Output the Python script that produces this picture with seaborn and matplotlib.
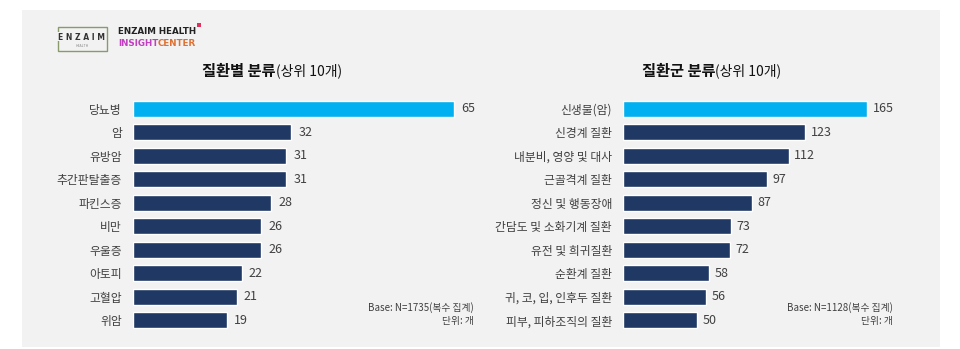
import matplotlib
matplotlib.use("Agg")
import matplotlib.pyplot as plt
import seaborn as sns
import pandas as pd
from matplotlib.patches import Rectangle

sns.set_theme(style="white")
plt.rcParams['font.family'] = ['Noto Sans CJK KR', 'DejaVu Sans']

left_cats = ["당뇨병", "암", "유방암", "추간판탈출증", "파킨스증", "비만", "우울증", "아토피", "고혈압", "위암"]
left_vals = [65, 32, 31, 31, 28, 26, 26, 22, 21, 19]
right_cats = ["신생물(암)", "신경계 질환", "내분비, 영양 및 대사", "근골격계 질환", "정신 및 행동장애",
              "간담도 및 소화기계 질환", "유전 및 희귀질환", "순환계 질환", "귀, 코, 입, 인후두 질환", "피부, 피하조직의 질환"]
right_vals = [165, 123, 112, 97, 87, 73, 72, 58, 56, 50]

left_title_bold, left_title_rest = "질환별 분류", "(상위 10개)"
right_title_bold, right_title_rest = "질환군 분류", "(상위 10개)"
left_note = ["Base: N=1735(복수 집계)", "단위: 개"]
right_note = ["Base: N=1128(복수 집계)", "단위: 개"]

HL = "#00b0f0"
NAVY = "#1f3864"
TXT = "#404040"

W, H = 960, 349
fig = plt.figure(figsize=(9.6, 3.49), dpi=100, facecolor="white")

# gray panel
fig.patches.append(Rectangle((22 / W, 1 - 347 / H), (940 - 22) / W, (347 - 10) / H,
                             transform=fig.transFigure, facecolor="#f2f2f2", edgecolor="none", zorder=-10))

def px_axes(x0, y0, x1, y1):
    return fig.add_axes([x0 / W, 1 - y1 / H, (x1 - x0) / W, (y1 - y0) / H])

def draw(ax, cats, vals, xmax):
    df = pd.DataFrame({"cat": cats, "val": vals})
    pal = [HL] + [NAVY] * (len(cats) - 1)
    sns.barplot(data=df, y="cat", x="val", hue="cat", palette=pal, legend=False,
                orient="h", width=0.66, ax=ax, saturation=1)
    ax.set_xlim(0, xmax)
    ax.set_ylim(len(cats) - 0.5, -0.5)
    ax.patch.set_visible(False)
    for s in ax.spines.values():
        s.set_visible(False)
    ax.set_xticks([])
    ax.set_xlabel("")
    ax.set_ylabel("")
    ax.tick_params(axis="y", length=0, pad=8, labelsize=8.5, labelcolor=TXT)
    for i, v in enumerate(vals):
        ax.text(v + xmax * 0.02, i, str(v), va="center", ha="left", fontsize=9, color=TXT)

top, bot = 97, 332
axL = px_axes(133, top, 133 + 360, bot)
draw(axL, left_cats, left_vals, 360 / 4.94)
axR = px_axes(623, top, 623 + 280, bot)
draw(axR, right_cats, right_vals, 280 / 1.48)

def title(xc, bold, rest):
    fig.text(xc / W, 1 - 71 / H, bold, ha="right", va="center", fontsize=11,
             fontweight="bold", color="#111111")
    fig.text(xc / W, 1 - 71 / H, rest, ha="left", va="center", fontsize=10, color="#111111")

title(276, left_title_bold, left_title_rest)
title(715, right_title_bold, right_title_rest)

def note(xr, lines):
    fig.text(xr / W, 1 - 308 / H, lines[0], ha="right", va="center", fontsize=7, color=TXT)
    fig.text(xr / W, 1 - 321 / H, lines[1], ha="right", va="center", fontsize=7, color=TXT)

note(474, left_note)
note(893, right_note)

# logo
fig.patches.append(Rectangle((58 / W, 1 - 51 / H), (107 - 58) / W, (51 - 27) / H,
                             transform=fig.transFigure, facecolor="none", edgecolor="#8a9a6a",
                             linewidth=1.0, zorder=2))
fig.patches.append(Rectangle((56 / W, 1 - 41 / H), 5 / W, 9 / H,
                             transform=fig.transFigure, facecolor="#f2f2f2", edgecolor="none", zorder=3))
fig.text(82 / W, 1 - 38 / H, "E N Z A I M", ha="center", va="center", fontsize=5.5,
         fontweight="bold", color="#333333", zorder=4, family=["DejaVu Sans"])
fig.text(82 / W, 1 - 46 / H, "HEALTH", ha="center", va="center", fontsize=2.5, color="#888888")
fig.text(118 / W, 1 - 32 / H, "ENZAIM HEALTH", ha="left", va="center", fontsize=6.3,
         fontweight="bold", color="#222222", family=["DejaVu Sans"])
fig.text(118 / W, 1 - 43 / H, "INSIGHT", ha="left", va="center", fontsize=6.3,
         fontweight="bold", color="#c040c0", family=["DejaVu Sans"])
fig.text(158 / W, 1 - 43 / H, "CENTER", ha="left", va="center", fontsize=6.3,
         fontweight="bold", color="#e07030", family=["DejaVu Sans"])
fig.patches.append(Rectangle((197 / W, 1 - 27 / H), 4 / W, 4 / H,
                             transform=fig.transFigure, facecolor="#e03060", edgecolor="none", zorder=2))

fig.savefig("out.png", dpi=100, facecolor="white")
